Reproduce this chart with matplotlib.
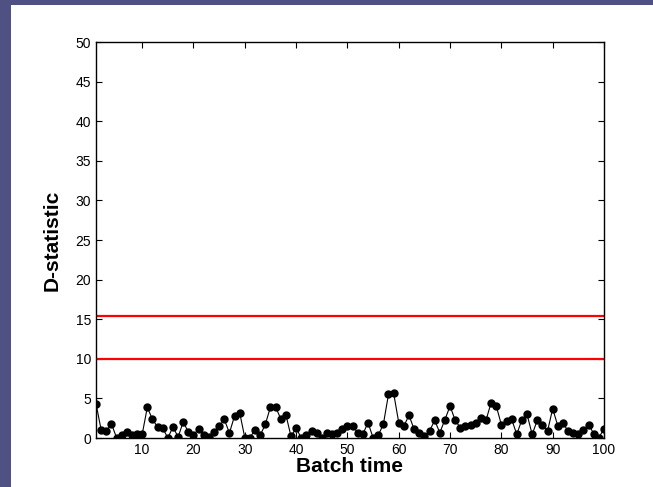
import matplotlib
matplotlib.use("Agg")
import matplotlib.pyplot as plt
from matplotlib.patches import Rectangle

plt.rcParams["font.family"] = ["Liberation Sans", "DejaVu Sans"]

# batch index and D-statistic values
batch = list(range(1, 101))
d_stat = [
    4.33, 1.05, 0.84, 1.80, 0.05, 0.34, 0.76, 0.34, 0.46, 0.46,
    3.87, 2.36, 1.39, 1.26, 0.00, 1.39, 0.13, 2.02, 0.76, 0.34,
    1.18, 0.34, 0.13, 0.76, 1.47, 2.36, 0.63, 2.78, 3.20, 0.04,
    0.04, 1.05, 0.34, 1.73, 3.91, 3.91, 2.44, 2.95, 0.21, 1.26,
    0.00, 0.34, 0.84, 0.63, 0.04, 0.67, 0.46, 0.63, 1.09, 1.52,
    1.52, 0.67, 0.46, 1.94, 0.04, 0.34, 1.73, 5.51, 5.68, 1.94,
    1.52, 2.86, 1.09, 0.67, 0.21, 0.88, 2.23, 0.67, 2.31, 4.04,
    2.23, 1.30, 1.47, 1.68, 1.89, 2.53, 2.23, 4.46, 4.04, 1.68,
    2.10, 2.36, 0.46, 2.31, 2.99, 0.46, 2.23, 1.68, 0.88, 3.70,
    1.52, 1.94, 0.84, 0.67, 0.46, 1.05, 1.68, 0.55, 0.04, 1.18,
]

# control limits
limit_99 = 15.35
limit_95 = 9.93

fig = plt.figure(figsize=(6.53, 4.87), dpi=100)
fig.patch.set_facecolor("#4f5183")
# white slide area behind the axes
fig.add_artist(Rectangle((11 / 653, 0), 1, 1 - 5 / 487, transform=fig.transFigure,
                         facecolor="white", edgecolor="none", zorder=-10))

ax = fig.add_axes([96 / 653, 49 / 487, 508 / 653, 396 / 487])
ax.axhline(limit_99, color="red", lw=1.6)
ax.axhline(limit_95, color="red", lw=1.6)
ax.plot(batch, d_stat, "-o", color="black", lw=0.8, ms=5)

ax.set_xlim(1, 100)
ax.set_ylim(0, 50)
ax.set_xticks(range(10, 101, 10))
ax.set_yticks(range(0, 51, 5))
ax.tick_params(direction="in", top=True, right=True, length=4, labelsize=10)
for s in ax.spines.values():
    s.set_linewidth(1.0)

ax.set_xlabel("Batch time", fontsize=15, fontweight="bold", labelpad=0)
ax.set_ylabel("D-statistic", fontsize=15, fontweight="bold", labelpad=10)

fig.savefig("out.png", dpi=100, facecolor=fig.get_facecolor())
